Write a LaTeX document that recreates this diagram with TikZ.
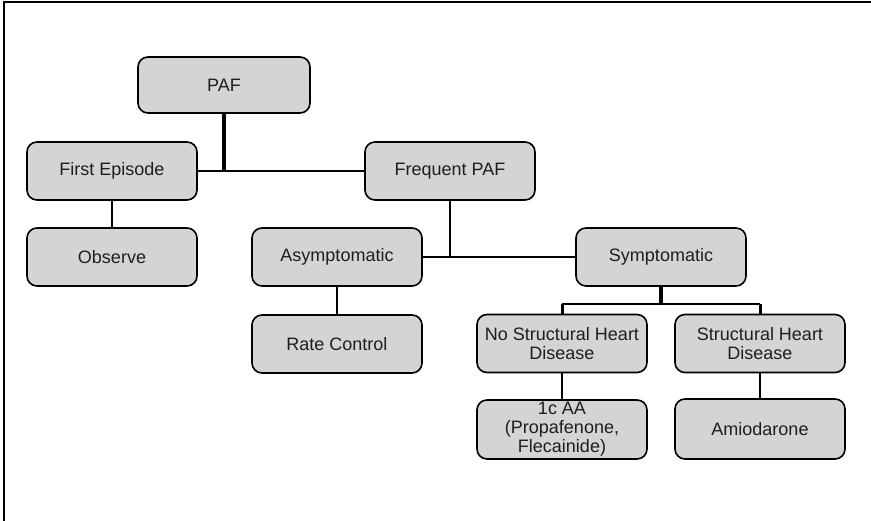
\documentclass[tikz,border=0pt]{standalone}
\usepackage{fontspec}
\setmainfont{Liberation Sans}
\definecolor{boxgray}{RGB}{212,212,212}
\definecolor{txt}{RGB}{30,30,30}
\begin{document}
\begin{tikzpicture}[x=1pt,y=-1pt,
  box/.style={draw=black, line width=1.6pt, fill=boxgray, rounded corners=10pt,
    minimum width=170pt, minimum height=58pt, inner sep=2pt, align=center,
    text=txt, font=\fontsize{18}{19}\selectfont},
  conn/.style={line width=1.8pt},
  heavy/.style={line width=4pt}]
\useasboundingbox (0,0) rectangle (871,521);
\draw[line width=1.4pt] (4,521) -- (4,2) -- (871,2);

\node[box, minimum width=172pt, minimum height=56pt] (paf) at (224,85) {PAF};
\node[box] (fe) at (112,171) {First Episode};
\node[box] (fp) at (450,171) {Frequent PAF};
\node[box] (obs) at (112,257) {Observe};
\node[box] (asym) at (337,257) {Asymptomatic};
\node[box] (sym) at (661,257) {Symptomatic};
\node[box] (rc) at (337,344) {Rate Control};
\node[box] (nsh) at (562,343.5) {No Structural Heart\\Disease};
\node[box] (sh) at (760,343.5) {Structural Heart\\Disease};
\node[box, minimum height=59pt] (aa) at (562,429.5) {1c AA\\(Propafenone,\\Flecainide)};
\node[box, minimum height=60pt] (amio) at (760,429) {Amiodarone};

\coordinate (j1) at (224,171);
\coordinate (j2) at (450,257);
\coordinate (j3) at (661,304);

\draw[heavy] (paf.south) -- (j1);
\draw[conn] (fe.east) -- (fp.west);
\draw[conn] (fe.south) -- (obs.north);
\draw[conn] (fp.south) -- (j2);
\draw[conn] (asym.east) -- (sym.west);
\draw[conn] (asym.south) -- (rc.north);
\draw[heavy] (sym.south) -- (j3);
\draw[conn] (nsh.north |- j3) -- (sh.north |- j3);
\draw[line width=3pt] (nsh.north |- j3) -- (nsh.north);
\draw[line width=3pt] (sh.north |- j3) -- (sh.north);
\draw[line width=2.4pt] (nsh.south) -- (aa.north);
\draw[line width=2.4pt] (sh.south) -- (amio.north);
\end{tikzpicture}
\end{document}
